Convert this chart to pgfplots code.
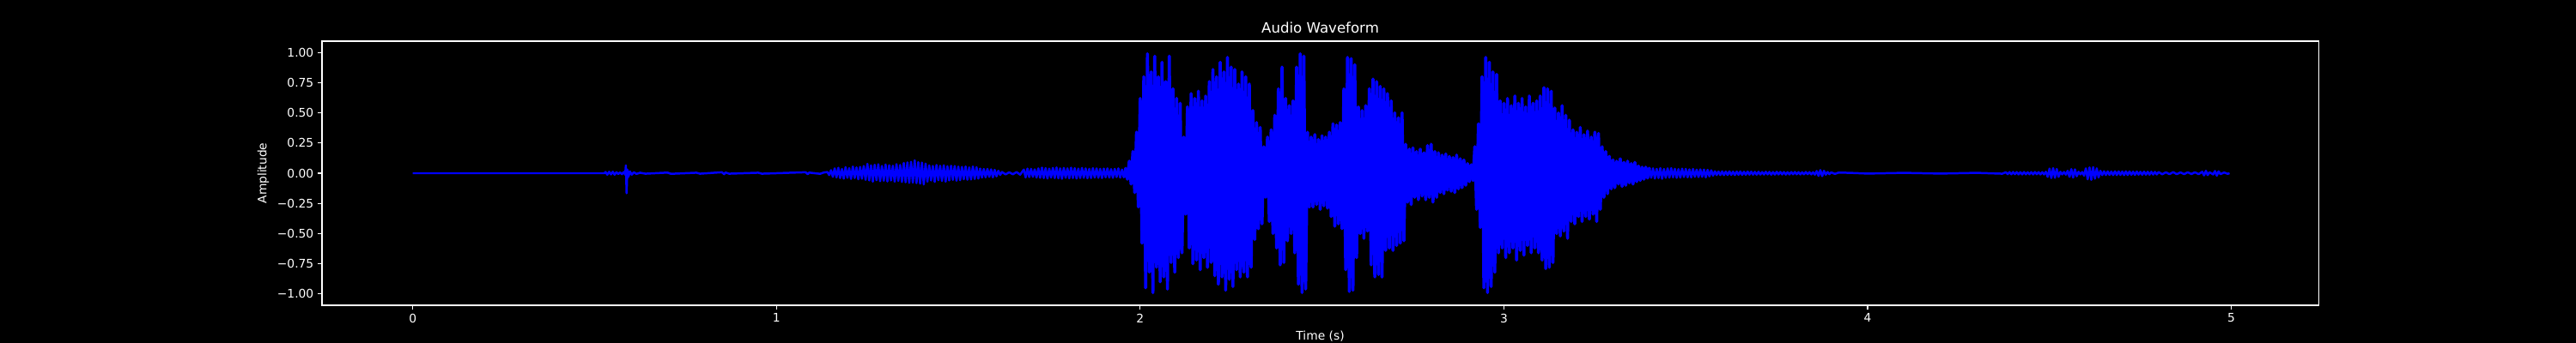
\documentclass[border=0pt]{standalone}
\usepackage{fontspec}
\setmainfont{DejaVu Sans}
\usepackage{pgfplots}
\pgfplotsset{compat=1.18}
\definecolor{wave}{RGB}{0,0,255}
\begin{document}
\begin{tikzpicture}
\fill[black] (0,0) rectangle (30in,4in);
\begin{axis}[
  at={(3.75in,0.44in)}, anchor=south west,
  scale only axis, width=23.25in, height=3.08in,
  xmin=-0.2495, xmax=5.2395, ymin=-1.0945, ymax=1.0945,
  axis line style={white, line width=0.8pt},
  tick style={white, line width=0.8pt},
  tick align=outside, major tick length=3.5pt,
  xtick={0,1,2,3,4,5}, xticklabels={0,1,2,3,4,5},
  ytick={-1,-0.75,-0.5,-0.25,0,0.25,0.5,0.75,1},
  yticklabels={−1.00,−0.75,−0.50,−0.25,0.00,0.25,0.50,0.75,1.00},
  xtick pos=bottom, ytick pos=left,
  ticklabel style={font=\fontsize{10}{12}\selectfont, text=white},
  title={Audio Waveform},
  title style={font=\fontsize{12}{14}\selectfont, text=white, yshift=-3pt},
  xlabel={Time (s)}, ylabel={Amplitude},
  label style={font=\fontsize{10}{12}\selectfont, text=white},
  clip=true,
]
\addplot[color=wave, line width=1.8pt, line join=round, mark=none] coordinates {
(0,0) (0.527,0) (0.530,0.010) (0.535,-0.012) (0.540,0.012) (0.545,-0.010) (0.550,0.012) (0.555,-0.012)
(0.560,0.008) (0.565,-0.006) (0.570,0.006) (0.575,-0.008) (0.580,0.010) (0.584,-0.012) (0.586,0.065)
(0.588,-0.166) (0.590,0.030) (0.593,-0.030) (0.597,0.015) (0.602,-0.012) (0.608,0.008) (0.615,-0.006)
(0.625,0.004) (0.640,-0.004) (0.700,0.005) (0.710,-0.005) (0.780,0.004) (0.790,-0.004) (0.850,0.008)
(0.856,-0.008) (0.860,0.006) (0.870,-0.004) (0.950,0.004) (0.960,-0.004) (1.080,0.008) (1.086,-0.008)
(1.090,0.005) (1.120,-0.005) (1.130,0.006)
(1.140,0.010) (1.145,-0.015) (1.150,0.025) (1.155,-0.030) (1.160,0.040) (1.165,-0.035) (1.170,0.045)
(1.175,-0.040) (1.180,0.035) (1.185,-0.045) (1.190,0.050) (1.195,-0.038) (1.200,0.042) (1.205,-0.047)
(1.210,0.055) (1.215,-0.040) (1.220,0.048) (1.225,-0.050) (1.230,0.052) (1.235,-0.046) (1.240,0.060)
(1.245,-0.055) (1.250,0.078) (1.255,-0.060) (1.260,0.065) (1.265,-0.070) (1.270,0.070) (1.275,-0.058)
(1.280,0.074) (1.285,-0.066) (1.290,0.060) (1.295,-0.062) (1.300,0.072) (1.305,-0.068) (1.310,0.066)
(1.315,-0.060) (1.320,0.062) (1.325,-0.070) (1.330,0.075) (1.335,-0.064) (1.340,0.068) (1.345,-0.072)
(1.350,0.085) (1.355,-0.075) (1.360,0.090) (1.365,-0.080) (1.370,0.095) (1.375,-0.078) (1.380,0.107)
(1.385,-0.082) (1.390,0.092) (1.395,-0.086) (1.400,0.088) (1.405,-0.093) (1.410,0.080) (1.415,-0.070)
(1.420,0.065) (1.425,-0.060) (1.430,0.060) (1.435,-0.072) (1.440,0.068) (1.445,-0.058) (1.450,0.062)
(1.455,-0.064) (1.460,0.066) (1.465,-0.070) (1.470,0.058) (1.475,-0.060) (1.480,0.062) (1.485,-0.055)
(1.490,0.060) (1.495,-0.062) (1.500,0.055) (1.505,-0.058) (1.510,0.052) (1.515,-0.050) (1.520,0.056)
(1.525,-0.054) (1.530,0.048) (1.535,-0.052) (1.540,0.055) (1.545,-0.048) (1.550,0.050) (1.555,-0.045)
(1.560,0.038) (1.565,-0.036) (1.570,0.035) (1.575,-0.034) (1.580,0.036) (1.585,-0.030) (1.590,0.032)
(1.595,-0.034) (1.600,0.028) (1.605,-0.026) (1.610,0.020) (1.615,-0.014)
(1.620,0.010) (1.630,-0.010) (1.640,0.008) (1.650,-0.009) (1.660,0.010) (1.670,-0.012)
(1.680,0.030) (1.685,-0.035) (1.690,0.038) (1.695,-0.032) (1.700,0.036) (1.705,-0.030) (1.710,0.032)
(1.715,-0.036) (1.720,0.040) (1.725,-0.038) (1.730,0.046) (1.735,-0.040) (1.740,0.042) (1.745,-0.044)
(1.750,0.038) (1.755,-0.036) (1.760,0.044) (1.765,-0.040) (1.770,0.048) (1.775,-0.042) (1.780,0.040)
(1.785,-0.046) (1.790,0.044) (1.795,-0.038) (1.800,0.040) (1.805,-0.042) (1.810,0.046) (1.815,-0.040)
(1.820,0.042) (1.825,-0.044) (1.830,0.038) (1.835,-0.040) (1.840,0.044) (1.845,-0.038) (1.850,0.040)
(1.855,-0.042) (1.860,0.036) (1.865,-0.040) (1.870,0.042) (1.875,-0.036) (1.880,0.040) (1.885,-0.038)
(1.890,0.036) (1.895,-0.040) (1.900,0.038) (1.905,-0.034) (1.910,0.040) (1.915,-0.036) (1.920,0.034)
(1.925,-0.038) (1.930,0.036) (1.935,-0.032) (1.940,0.040) (1.945,-0.036) (1.950,0.030) (1.955,-0.034)
(1.960,0.04)
};
\addplot[color=wave, line width=2.6pt, line join=round, mark=none] coordinates {
(1.955,-0.034)
(1.960,0.04) (1.965,-0.05) (1.970,0.10) (1.975,-0.09) (1.980,0.18) (1.985,-0.16) (1.990,0.34) (1.995,-0.28)
(2.000,0.62) (2.005,-0.58) (2.010,0.80) (2.015,-0.95) (2.020,0.99) (2.025,-0.82) (2.030,0.84) (2.035,-0.99)
(2.040,0.97) (2.045,-0.78) (2.050,0.80) (2.055,-0.90) (2.060,0.92) (2.065,-0.86) (2.070,0.76) (2.075,-0.96)
(2.080,0.97) (2.085,-0.74) (2.090,0.70) (2.095,-0.82) (2.100,0.62) (2.105,-0.70) (2.110,0.58) (2.115,-0.66)
(2.120,0.30) (2.125,-0.34) (2.130,0.55) (2.135,-0.62) (2.140,0.66) (2.145,-0.75) (2.150,0.62) (2.155,-0.72)
(2.160,0.68) (2.165,-0.80) (2.170,0.60) (2.175,-0.70) (2.180,0.64) (2.185,-0.78) (2.190,0.76) (2.195,-0.74)
(2.200,0.86) (2.205,-0.85) (2.210,0.80) (2.215,-0.92) (2.220,0.92) (2.225,-0.86) (2.230,0.84) (2.235,-0.97)
(2.240,0.96) (2.245,-0.88) (2.250,0.88) (2.255,-0.94) (2.260,0.86) (2.265,-0.80) (2.270,0.74) (2.275,-0.86)
(2.280,0.84) (2.285,-0.82) (2.290,0.80) (2.295,-0.86) (2.300,0.74) (2.305,-0.78) (2.310,0.52) (2.315,-0.55)
(2.320,0.42) (2.325,-0.46) (2.330,0.38) (2.335,-0.42) (2.340,0.22) (2.345,-0.20) (2.350,0.30) (2.355,-0.40)
(2.360,0.36) (2.365,-0.50) (2.370,0.48) (2.375,-0.62) (2.380,0.70) (2.385,-0.76) (2.390,0.88) (2.395,-0.74)
(2.400,0.62) (2.405,-0.56) (2.410,0.56) (2.415,-0.50) (2.420,0.60) (2.425,-0.66) (2.430,0.88) (2.435,-0.92)
(2.440,0.99) (2.445,-0.99) (2.450,0.97) (2.455,-0.96) (2.460,0.34) (2.465,-0.28) (2.470,0.30) (2.475,-0.28)
(2.480,0.32) (2.485,-0.26) (2.490,0.28) (2.495,-0.30) (2.500,0.31) (2.505,-0.27) (2.510,0.30) (2.515,-0.29)
(2.520,0.34) (2.525,-0.36) (2.530,0.41) (2.535,-0.44) (2.540,0.40) (2.545,-0.42) (2.550,0.42) (2.555,-0.46)
(2.560,0.70) (2.565,-0.80) (2.570,0.96) (2.575,-0.98) (2.580,0.95) (2.585,-0.97) (2.590,0.90) (2.595,-0.70)
(2.600,0.55) (2.605,-0.50) (2.610,0.52) (2.615,-0.54) (2.620,0.56) (2.625,-0.48) (2.630,0.70) (2.635,-0.76)
(2.640,0.78) (2.645,-0.86) (2.650,0.76) (2.655,-0.84) (2.660,0.72) (2.665,-0.86) (2.670,0.70) (2.675,-0.64)
(2.680,0.66) (2.685,-0.62) (2.690,0.60) (2.695,-0.64) (2.700,0.50) (2.705,-0.60) (2.710,0.46) (2.715,-0.58)
(2.720,0.50) (2.725,-0.56) (2.730,0.24) (2.735,-0.24) (2.740,0.20) (2.745,-0.26) (2.750,0.21) (2.755,-0.20)
(2.760,0.18) (2.765,-0.22) (2.770,0.20) (2.775,-0.19) (2.780,0.17) (2.785,-0.22) (2.790,0.23) (2.795,-0.20)
(2.800,0.24) (2.805,-0.24) (2.810,0.18) (2.815,-0.20) (2.820,0.17) (2.825,-0.16) (2.830,0.15) (2.835,-0.17)
(2.840,0.16) (2.845,-0.14) (2.850,0.14) (2.855,-0.15) (2.860,0.13) (2.865,-0.16) (2.870,0.15) (2.875,-0.13)
(2.880,0.12) (2.885,-0.12) (2.890,0.11) (2.895,-0.10) (2.900,0.08) (2.905,-0.07) (2.910,0.07) (2.915,-0.06)
(2.920,0.22) (2.925,-0.30) (2.930,0.41) (2.935,-0.45) (2.940,0.80) (2.945,-0.95) (2.950,0.96) (2.955,-0.99)
(2.960,0.92) (2.965,-0.94) (2.970,0.84) (2.975,-0.82) (2.980,0.82) (2.985,-0.66) (2.990,0.60) (2.995,-0.62)
(3.000,0.58) (3.005,-0.70) (3.010,0.62) (3.015,-0.66) (3.020,0.56) (3.025,-0.62) (3.030,0.64) (3.035,-0.72)
(3.040,0.58) (3.045,-0.64) (3.050,0.62) (3.055,-0.68) (3.060,0.55) (3.065,-0.60) (3.070,0.64) (3.075,-0.66)
(3.080,0.58) (3.085,-0.62) (3.090,0.60) (3.095,-0.66) (3.100,0.64) (3.105,-0.72) (3.110,0.71) (3.115,-0.79)
(3.120,0.70) (3.125,-0.78) (3.130,0.68) (3.135,-0.74) (3.140,0.54) (3.145,-0.50) (3.150,0.50) (3.155,-0.52)
(3.160,0.56) (3.165,-0.48) (3.170,0.48) (3.175,-0.54) (3.180,0.44) (3.185,-0.40) (3.190,0.36) (3.195,-0.42)
(3.200,0.34) (3.205,-0.36) (3.210,0.38) (3.215,-0.40) (3.220,0.32) (3.225,-0.36) (3.230,0.35) (3.235,-0.38)
(3.240,0.30) (3.245,-0.34) (3.250,0.34) (3.255,-0.40) (3.260,0.33) (3.265,-0.30) (3.270,0.22) (3.275,-0.20)
(3.280,0.18) (3.285,-0.17) (3.290,0.14) (3.295,-0.13) (3.300,0.11) (3.305,-0.12) (3.310,0.10) (3.315,-0.09)
(3.320,0.12) (3.325,-0.11) (3.330,0.09) (3.335,-0.10) (3.340,0.10) (3.345,-0.08) (3.350,0.08) (3.355,-0.09)
(3.360,0.09) (3.365,-0.07) (3.370,0.06) (3.375,-0.06) (3.380,0.05) (3.385,-0.05) (3.390,0.05) (3.395,-0.04)
(3.400,0.045)
};
\addplot[color=wave, line width=1.8pt, line join=round, mark=none] coordinates {
(3.395,-0.04)
(3.400,0.045) (3.405,-0.038) (3.410,0.040) (3.415,-0.044) (3.420,0.036) (3.425,-0.040) (3.430,0.042) (3.435,-0.046)
(3.440,0.035) (3.445,-0.038) (3.450,0.040) (3.455,-0.036) (3.460,0.042) (3.465,-0.034) (3.470,0.036) (3.475,-0.038)
(3.480,0.034) (3.485,-0.036) (3.490,0.038) (3.495,-0.032) (3.500,0.036) (3.505,-0.034) (3.510,0.032) (3.515,-0.035)
(3.520,0.035) (3.525,-0.030) (3.530,0.030) (3.535,-0.032) (3.540,0.032) (3.545,-0.030) (3.550,0.030) (3.555,-0.034)
(3.560,0.028) (3.565,-0.026) (3.570,0.024) (3.575,-0.020) (3.580,0.016) (3.585,-0.015) (3.590,0.014) (3.595,-0.015)
(3.600,0.015) (3.605,-0.016) (3.610,0.014) (3.615,-0.015) (3.620,0.016) (3.625,-0.014) (3.630,0.013) (3.635,-0.015)
(3.640,0.014) (3.645,-0.013) (3.650,0.015) (3.655,-0.014) (3.660,0.012) (3.665,-0.013) (3.670,0.014) (3.675,-0.012)
(3.680,0.013) (3.685,-0.012) (3.690,0.011) (3.695,-0.012) (3.700,0.012) (3.705,-0.011) (3.710,0.010) (3.715,-0.011)
(3.720,0.012) (3.725,-0.010) (3.730,0.011) (3.735,-0.012) (3.740,0.010) (3.745,-0.011) (3.750,0.012) (3.755,-0.010)
(3.760,0.011) (3.765,-0.010) (3.770,0.010) (3.775,-0.011) (3.780,0.009) (3.785,-0.010) (3.790,0.010) (3.795,-0.009)
(3.800,0.010) (3.805,-0.009) (3.810,0.009) (3.815,-0.010) (3.820,0.008) (3.825,-0.009) (3.830,0.010) (3.835,-0.008)
(3.840,0.009) (3.845,-0.010) (3.850,0.008) (3.855,-0.012) (3.860,0.018) (3.865,-0.022) (3.870,0.026) (3.875,-0.024)
(3.880,0.020) (3.885,-0.012) (3.890,0.010) (3.895,-0.008) (3.900,0.007) (3.910,-0.006) (3.920,0.005)
(3.95,0.003) (4.00,-0.003)
(4.10,0.003) (4.20,-0.003) (4.30,0.003) (4.37,-0.004) (4.38,0.008) (4.385,-0.008) (4.39,0.009) (4.395,-0.009)
(4.40,0.010) (4.405,-0.008) (4.41,0.009) (4.415,-0.010) (4.42,0.009) (4.425,-0.010) (4.43,0.010) (4.435,-0.009)
(4.44,0.008) (4.445,-0.009) (4.45,0.009) (4.455,-0.010) (4.46,0.010) (4.465,-0.008) (4.47,0.009) (4.475,-0.010)
(4.48,0.009) (4.485,-0.010) (4.49,0.012)
(4.495,-0.030) (4.500,0.038) (4.505,-0.040) (4.510,0.042) (4.515,-0.038) (4.520,0.035) (4.525,-0.030) (4.530,0.012)
(4.535,-0.010) (4.540,0.010) (4.545,-0.012) (4.550,0.020) (4.555,-0.030) (4.560,0.034) (4.565,-0.036) (4.570,0.032)
(4.575,-0.025) (4.580,0.012) (4.585,-0.010) (4.590,0.010) (4.595,-0.020) (4.600,0.040) (4.605,-0.050) (4.610,0.048)
(4.615,-0.055) (4.620,0.050) (4.625,-0.045) (4.630,0.040) (4.635,-0.035) (4.640,0.020) (4.645,-0.016) (4.650,0.016)
(4.655,-0.015) (4.660,0.015) (4.665,-0.014) (4.670,0.014) (4.675,-0.016) (4.680,0.016) (4.685,-0.015) (4.690,0.015)
(4.695,-0.014) (4.700,0.014) (4.705,-0.016) (4.710,0.016) (4.715,-0.015) (4.720,0.015) (4.725,-0.013) (4.730,0.013)
(4.735,-0.014) (4.740,0.014) (4.745,-0.012) (4.750,0.012) (4.755,-0.013) (4.760,0.013) (4.765,-0.012) (4.770,0.012)
(4.775,-0.012) (4.780,0.012) (4.785,-0.011) (4.790,0.011) (4.795,-0.010) (4.800,0.010)
(4.81,-0.009) (4.82,0.008) (4.83,-0.008) (4.84,0.009) (4.85,-0.008)
(4.86,0.007) (4.87,-0.008) (4.88,0.008) (4.89,-0.007) (4.90,0.008) (4.91,-0.008) (4.92,0.012) (4.925,-0.018)
(4.930,0.020) (4.935,-0.016) (4.94,0.008) (4.95,-0.010) (4.955,0.018) (4.960,-0.020) (4.965,0.016) (4.97,-0.008)
(4.98,0.006) (4.99,-0.005) (4.995,0)
};
\end{axis}
\pgfresetboundingbox
\useasboundingbox (0,0) rectangle (30in,4in);
\end{tikzpicture}
\end{document}
